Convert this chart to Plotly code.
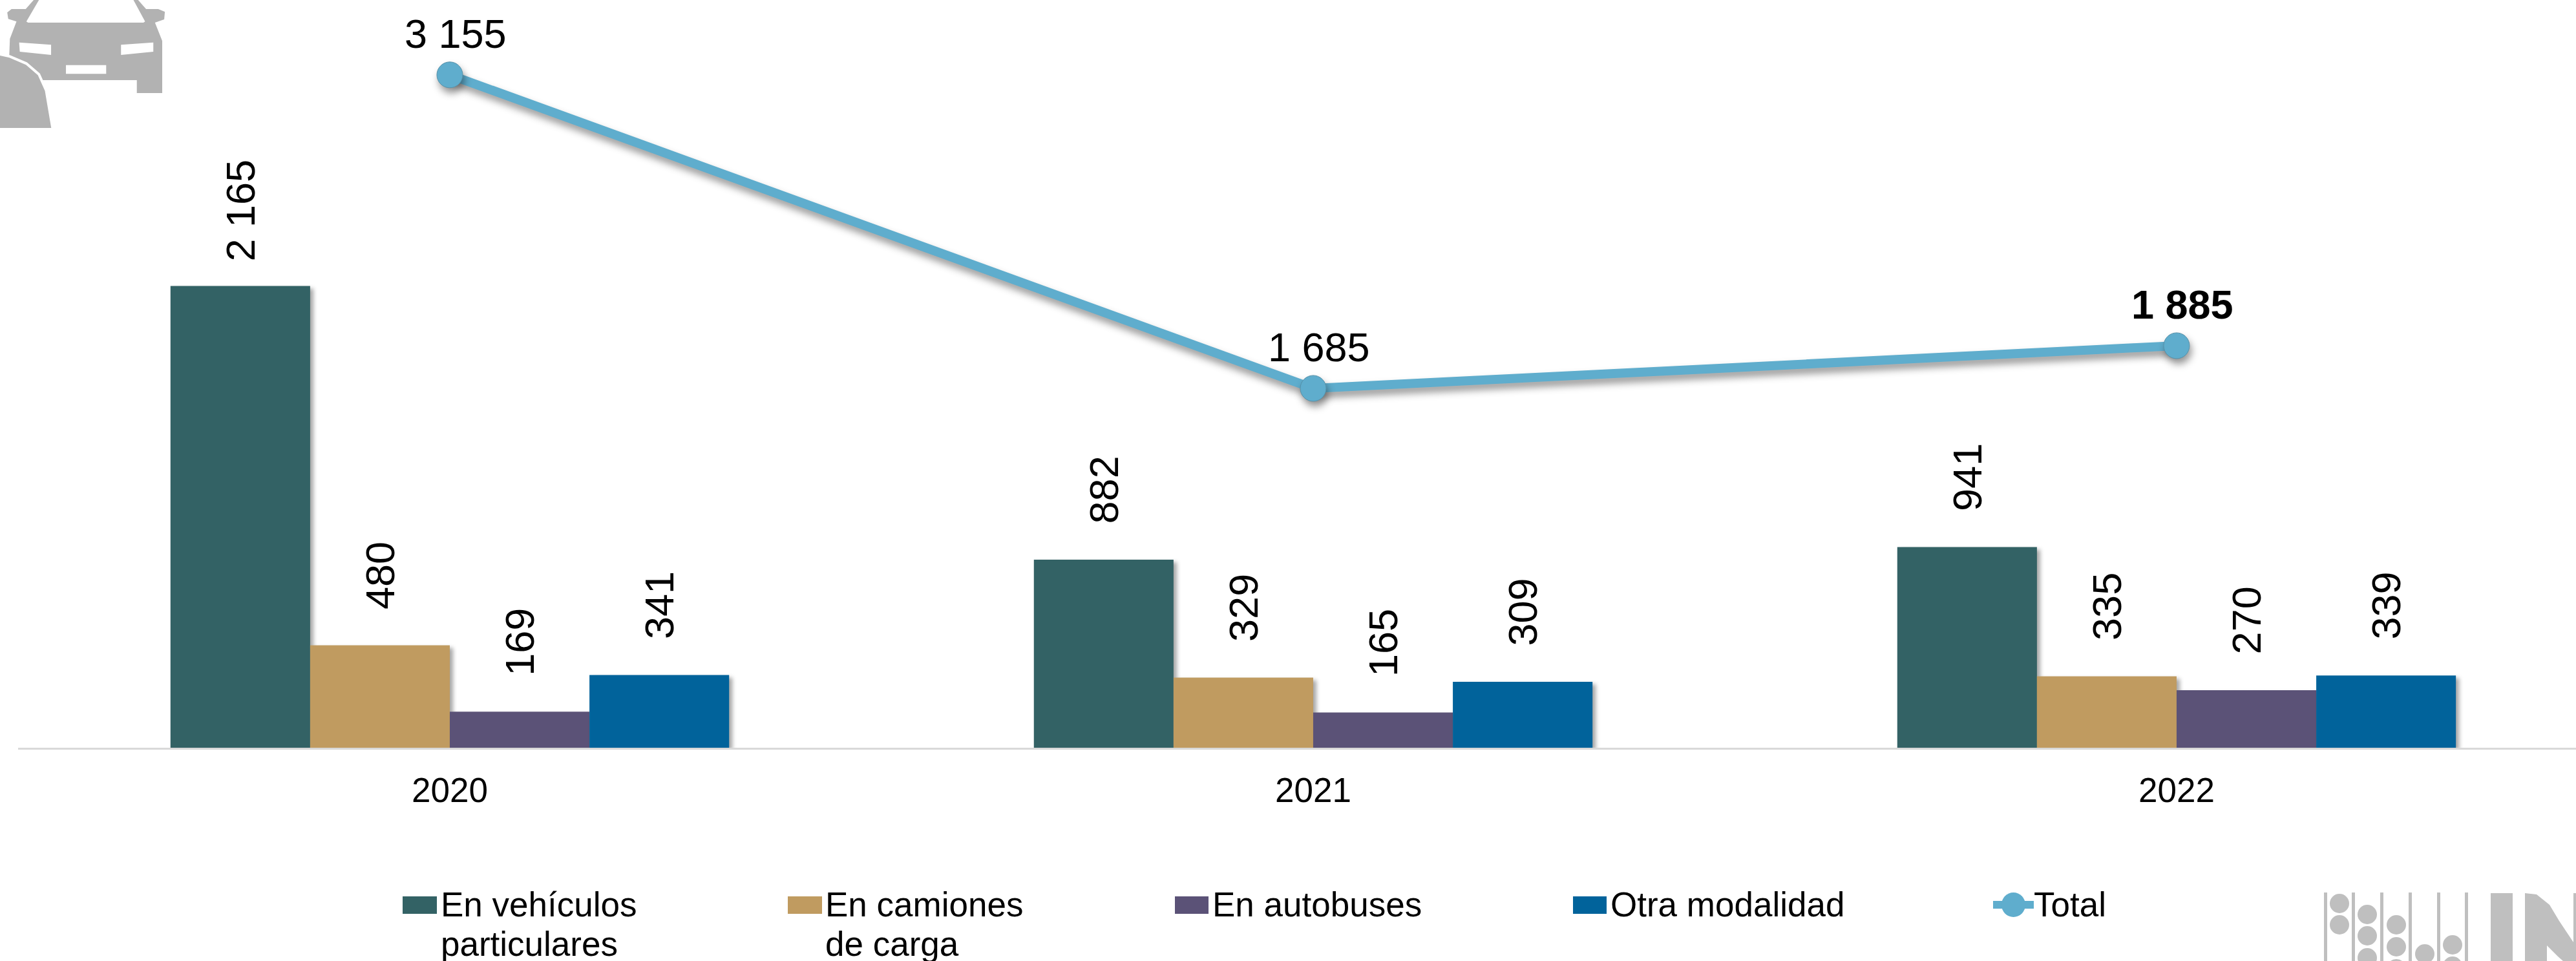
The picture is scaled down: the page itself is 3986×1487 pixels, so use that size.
import plotly.graph_objects as go

W, H = 3986, 1487
ML, MB = 28, 330
YMAX = 3506

years = ["2020", "2021", "2022"]
vehiculos = [2165, 882, 941]
camiones = [480, 329, 335]
autobuses = [169, 165, 270]
otra = [341, 309, 339]
total = [3155, 1685, 1885]

series_names = ["En vehículos particulares", "En camiones de carga", "En autobuses", "Otra modalidad"]
series_colors = ["#336265", "#C09B60", "#5B5277", "#01639B"]
line_color = "#5FADCD"
car_gray = "#B2B2B2"
logo_gray = "#BFBFBF"


def fmt(v):
    return f"{v:,}".replace(",", " ")


def bar_label(v):
    pad = 2 if v >= 1000 else 3
    return "\u00a0" * pad + fmt(v)


def px(x):
    return (x - ML) / (W - ML)


def py(y):
    return 1 - y / (H - MB)


def path(points):
    return "M " + " L ".join(f"{px(x)},{py(y)}" for x, y in points) + " Z"


fig = go.Figure()
for name, vals, col in zip(series_names, [vehiculos, camiones, autobuses, otra], series_colors):
    fig.add_trace(go.Bar(
        x=years, y=vals, name=name, marker=dict(color=col, line=dict(width=0)),
        text=[bar_label(v) for v in vals], textposition="outside", textangle=-90,
        textfont=dict(family="Liberation Sans", size=63, color="#000000"),
        constraintext="none", cliponaxis=False, showlegend=False,
    ))

total_text = ["\u00a0" + fmt(v) if i < 2 else "\u00a0<b>" + fmt(v) + "</b>" for i, v in enumerate(total)]
fig.add_trace(go.Scatter(
    x=years, y=total, name="Total", mode="lines+markers+text",
    line=dict(color=line_color, width=14),
    marker=dict(color=line_color, size=40, line=dict(color="#5590A8", width=1)),
    text=total_text, textposition="top center",
    textfont=dict(family="Liberation Sans", size=63, color="#000000"),
    cliponaxis=False, showlegend=False,
))

shapes = []
annotations = []


def add_shape(**kw):
    shapes.append(dict(xref="paper", yref="paper", layer="above", line=dict(width=0), **kw))


def label(x, y, t):
    annotations.append(dict(xref="paper", yref="paper", x=px(x), y=py(y), text=t, showarrow=False,
                            xanchor="left", yanchor="middle", borderpad=0,
                            font=dict(family="Liberation Sans", size=53, color="#000000")))


# Legend
legend_lines = [["En vehículos", "particulares"], ["En camiones", "de carga"], ["En autobuses"], ["Otra modalidad"]]
legend_x = [(623, 676, 681), (1219, 1272, 1276), (1818, 1870, 1875), (2434, 2486, 2491)]
for (x0, x1, xt), col, lines in zip(legend_x, series_colors, legend_lines):
    add_shape(type="rect", x0=px(x0), x1=px(x1), y0=py(1387), y1=py(1414), fillcolor=col)
    for i, t in enumerate(lines):
        label(xt, 1399 + 61 * i, t)
add_shape(type="rect", x0=px(3084), x1=px(3147), y0=py(1394), y1=py(1406), fillcolor=line_color)
add_shape(type="circle", x0=px(3097), x1=px(3134), y0=py(1381), y1=py(1419), fillcolor=line_color)
label(3146, 1399, "Total")


# Car icon: points read from a zoom at 1.96x horizontally and 3x vertically
def cz(pts):
    return [(x / 1.96, y / 3) for x, y in pts]


add_shape(type="path", fillcolor=car_gray, path=path(cz([
    (105, -5), (78, 42), (35, 42), (22, 58), (25, 88), (50, 100), (30, 180), (28, 260), (28, 372),
    (415, 372), (415, 432), (492, 432), (492, 190), (470, 105), (498, 90), (500, 55), (480, 42),
    (443, 42), (416, -5)])))
add_shape(type="path", fillcolor="#FFFFFF", path=path(cz([(120, -5), (80, 100), (85, 105), (435, 105), (440, 100), (403, -5)])))
add_shape(type="path", fillcolor="#FFFFFF", path=path(cz([(58, 197), (155, 208), (155, 255), (60, 240)])))
add_shape(type="path", fillcolor="#FFFFFF", path=path(cz([(465, 197), (367, 208), (367, 255), (465, 240)])))
add_shape(type="path", fillcolor="#FFFFFF", path=path(cz([(200, 302), (322, 302), (322, 343), (200, 343)])))
road_edge = [(-5, 250), (30, 262), (80, 295), (118, 345), (140, 420), (160, 600), (-5, 600)]
shapes.append(dict(xref="paper", yref="paper", layer="above", type="path", fillcolor=car_gray,
                   line=dict(color="#FFFFFF", width=4), path=path(cz(road_edge))))

# Logo
for x in [3596, 3639, 3683, 3727, 3771, 3814]:
    add_shape(type="rect", x0=px(x), x1=px(x + 5), y0=py(1381), y1=py(1495), fillcolor=logo_gray)
logo_dots = [(3620, 1398), (3620, 1431), (3663, 1415), (3663, 1448), (3663, 1482), (3708, 1431), (3708, 1465),
             (3708, 1499), (3752, 1476), (3795, 1462), (3795, 1495)]
for cx, cy in logo_dots:
    add_shape(type="circle", x0=px(cx - 15), x1=px(cx + 15), y0=py(cy - 15), y1=py(cy + 15), fillcolor=logo_gray)
add_shape(type="rect", x0=px(3854), x1=px(3888), y0=py(1382), y1=py(1495), fillcolor=logo_gray)
add_shape(type="path", fillcolor=logo_gray, path=path([
    (3907, 1382), (3925, 1384), (3945, 1400), (3960, 1425), (3982, 1458), (3982, 1382), (3995, 1382), (3995, 1495),
    (3975, 1495), (3958, 1480), (3941, 1463), (3941, 1495), (3907, 1495)]))

fig.update_layout(
    width=W, height=H, autosize=False,
    margin=dict(l=ML, r=0, t=0, b=MB, pad=0),
    paper_bgcolor="#FFFFFF", plot_bgcolor="#FFFFFF",
    barmode="group", bargap=0.353, bargroupgap=0,
    showlegend=False, shapes=shapes, annotations=annotations,
    font=dict(family="Liberation Sans", color="#000000"),
    xaxis=dict(type="category", range=[-0.5, 2.4626], showgrid=False, zeroline=False,
               showline=True, linecolor="#D9D9D9", linewidth=3, ticks="",
               tickfont=dict(family="Liberation Sans", size=53, color="#000000"), ticklabelstandoff=17),
    yaxis=dict(range=[0, YMAX], visible=False, showgrid=False, zeroline=False),
)

post = """
document.documentElement.style.margin='0';
document.body.style.margin='0';
document.body.style.overflow='hidden';
var s=document.createElement('style');
s.textContent=".barlayer .point path{filter:drop-shadow(5px 4px 3px rgba(0,0,0,.35));}"+
 ".scatterlayer .js-line,.scatterlayer .points path{filter:drop-shadow(3px 8px 6px rgba(0,0,0,.4));}";
document.head.appendChild(s);
"""
fig.write_html("out.html", post_script=post, config=dict(displayModeBar=False))
